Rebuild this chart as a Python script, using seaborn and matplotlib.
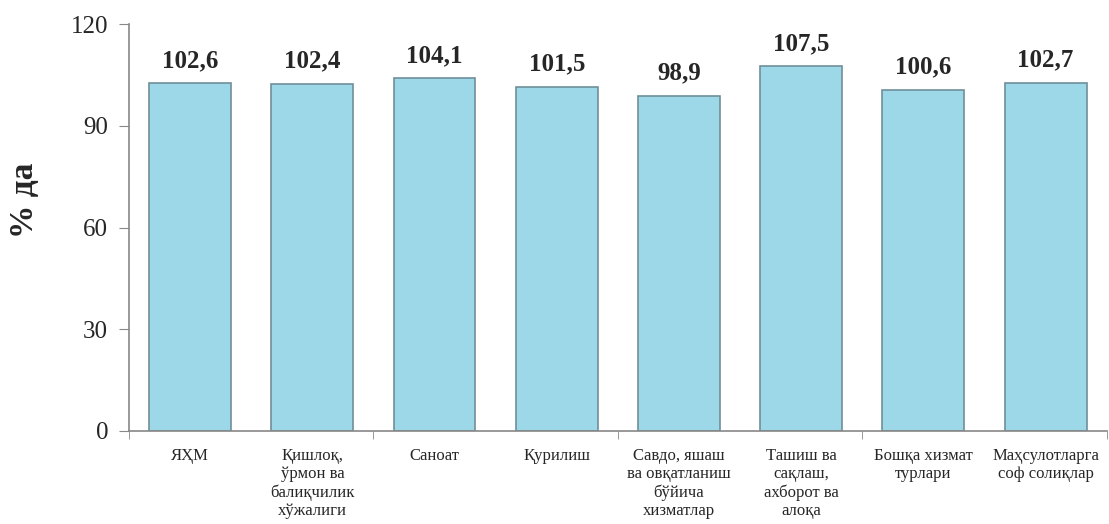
import numpy as np
import pandas as pd
import seaborn as sns
import matplotlib.pyplot as plt

# Sector growth, % to previous year
categories = ["ЯҲМ",
              "Қишлоқ,\nўрмон ва\nбалиқчилик\nхўжалиги",
              "Саноат",
              "Қурилиш",
              "Савдо, яшаш\nва овқатланиш\nбўйича\nхизматлар",
              "Ташиш ва\nсақлаш,\nахборот ва\nалоқа",
              "Бошқа хизмат\nтурлари",
              "Маҳсулотларга\nсоф солиқлар"]
values = [102.6, 102.4, 104.1, 101.5, 98.9, 107.5, 100.6, 102.7]
value_labels = ["102,6", "102,4", "104,1", "101,5", "98,9", "107,5", "100,6", "102,7"]

df = pd.DataFrame({"cat": categories, "val": values})

sns.set_style("white")
plt.rcParams['font.family'] = ['Liberation Serif', 'DejaVu Serif']

fig = plt.figure(figsize=(11.09, 5.24), dpi=100)
ax = fig.add_axes([0.1163, 0.1775, 0.8817, 0.7765])

sns.barplot(data=df, x="cat", y="val", color="#9dd8e8", width=0.67,
            edgecolor="#6f8f99", linewidth=1.2, saturation=1, ax=ax)

for i, (v, lab) in enumerate(zip(values, value_labels)):
    ax.text(i, v + 3.3, lab, ha="center", va="bottom", fontsize=18, fontweight="bold")

ax.set_ylim(0, 120)
ax.set_xlim(-0.5, 7.5)
ax.set_yticks([0, 30, 60, 90, 120])
ax.tick_params(axis="y", labelsize=18, length=7, color="#888888", direction="out", left=True, pad=8)
ax.set_xticks(range(len(categories)))
ax.set_xticklabels(categories, fontsize=12, linespacing=1.2)
ax.tick_params(axis="x", length=0, pad=12)
ax.set_xticks([-0.5, 1.5, 3.5, 5.5, 7.5], minor=True)
ax.tick_params(axis="x", which="minor", length=6, color="#888888", direction="out", bottom=True)

ax.set_xlabel("")
ax.set_ylabel("% да", fontsize=24, fontweight="bold")
ax.yaxis.set_label_coords(-0.091, 0.567)

for s in ["top", "right"]:
    ax.spines[s].set_visible(False)
for s in ["left", "bottom"]:
    ax.spines[s].set_color("#888888")
    ax.spines[s].set_linewidth(1.2)

fig.savefig("out.png", dpi=100)
